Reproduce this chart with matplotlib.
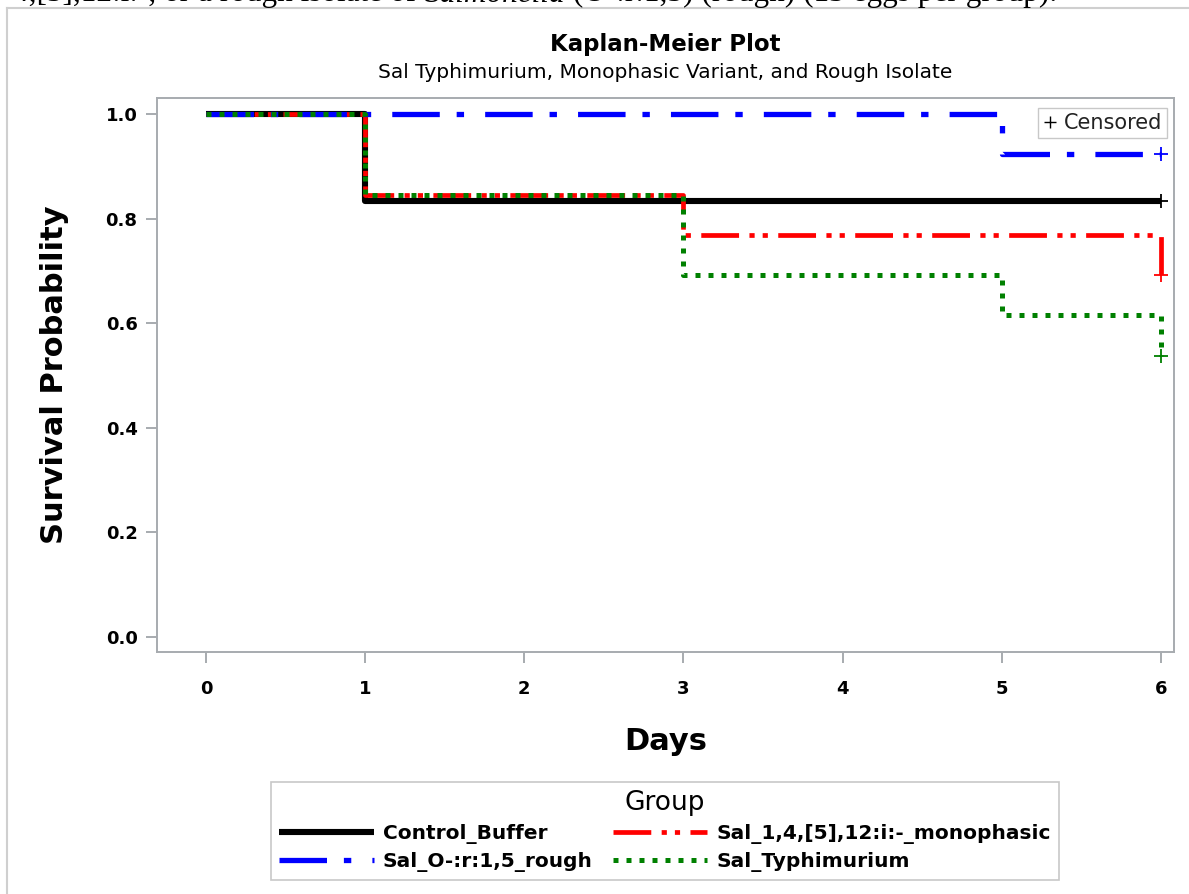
import matplotlib
matplotlib.use("Agg")
import matplotlib.pyplot as plt
from matplotlib.lines import Line2D

# Kaplan-Meier survival estimates (step changes at these days)
days = [0, 1, 3, 5, 6]
control_buffer = [1.0, 0.833, 0.833, 0.833, 0.833]
monophasic = [1.0, 0.846, 0.769, 0.769, 0.692]
rough = [1.0, 1.0, 1.0, 0.923, 0.923]
typhimurium = [1.0, 0.846, 0.692, 0.615, 0.538]

group_names = ["Control_Buffer", "Sal_1,4,[5],12:i:-_monophasic",
               "Sal_O-:r:1,5_rough", "Sal_Typhimurium"]
x_ticks = [0, 1, 2, 3, 4, 5, 6]
y_ticks = [0.0, 0.2, 0.4, 0.6, 0.8, 1.0]

plt.rcParams["font.family"] = ["DejaVu Sans"]

W, H = 1189, 894
fig = plt.figure(figsize=(W / 100, H / 100), dpi=100)
fig.patch.set_facecolor("white")

ax = fig.add_axes([157 / W, 1 - 652 / H, (1174 - 157) / W, (652 - 98) / H])

styles = {
    "Control_Buffer": dict(color="black", lw=4.4, ls="-", zorder=3),
    "Sal_1,4,[5],12:i:-_monophasic": dict(color="#FF0000", lw=3.4,
        ls=(0, (8.0, 2.2, 1.1, 1.7, 1.1, 2.2)), zorder=4),
    "Sal_O-:r:1,5_rough": dict(color="#0000FF", lw=3.8,
        ls=(0, (9.0, 3.2, 1.4, 4.0)), zorder=5),
    "Sal_Typhimurium": dict(color="#008000", lw=3.6, ls=(0, (1.0, 1.6)), zorder=6),
}
series = {
    "Control_Buffer": control_buffer,
    "Sal_1,4,[5],12:i:-_monophasic": monophasic,
    "Sal_O-:r:1,5_rough": rough,
    "Sal_Typhimurium": typhimurium,
}

handles = {}
for name in group_names:
    st = styles[name]
    vals = series[name]
    (ln,) = ax.plot(days, vals, drawstyle="steps-post", color=st["color"],
                    lw=st["lw"], ls=st["ls"], zorder=st["zorder"],
                    solid_capstyle="butt", dash_capstyle="butt")
    handles[name] = ln
    # censored observation at end of follow-up
    ax.plot([days[-1]], [vals[-1]], marker="+", ms=10, mew=1.3,
            color=st["color"], ls="none", zorder=8)

ax.set_xlim(-0.308, 6.082)
ax.set_ylim(-0.029, 1.031)
ax.set_xticks(x_ticks)
ax.set_yticks(y_ticks)
ax.set_xticklabels([str(t) for t in x_ticks], fontsize=13, fontweight="bold")
ax.set_yticklabels([f"{t:.1f}" for t in y_ticks], fontsize=13, fontweight="bold")

gray = "#A7ABAF"
for sp in ax.spines.values():
    sp.set_color(gray)
    sp.set_linewidth(1.4)
ax.tick_params(axis="both", direction="out", color=gray, width=1.4, length=8)
ax.tick_params(axis="x", pad=12)
ax.tick_params(axis="y", pad=6)

ax.set_xlabel("Days", fontsize=22, fontweight="bold", labelpad=21)
ax.set_ylabel("Survival Probability", fontsize=22, fontweight="bold", labelpad=26)

fig.text(665 / W, 1 - 45 / H, "Kaplan-Meier Plot", ha="center", va="center",
         fontsize=16.5, fontweight="bold")
fig.text(665 / W, 1 - 73 / H,
         "Sal Typhimurium, Monophasic Variant, and Rough Isolate",
         ha="center", va="center", fontsize=14.5)

# censored marker key inside the plot area
cens = Line2D([], [], marker="+", color="black", ls="none", ms=9, mew=1.0)
ax.legend([cens], ["Censored"], loc="upper right",
          bbox_to_anchor=((1167 - 157) / 1017, 1 - 10 / 554), borderaxespad=0,
          fontsize=15, handlelength=0.6, handletextpad=0.35, borderpad=0.25,
          fancybox=False, edgecolor="#C8C8C8", framealpha=1, labelcolor="#222222")

# group legend below the plot (column-major order)
order = ["Control_Buffer", "Sal_O-:r:1,5_rough",
         "Sal_1,4,[5],12:i:-_monophasic", "Sal_Typhimurium"]
leg = fig.legend([handles[n] for n in order], order, ncol=2,
                 loc="upper center", bbox_to_anchor=(665 / W, 1 - 782 / H),
                 borderaxespad=0,
                 title="Group", title_fontsize=19,
                 prop=dict(size=14.5, weight="bold"),
                 handlelength=4.7, handletextpad=0.45, columnspacing=1.0,
                 labelspacing=0.4, borderpad=0.4, fancybox=False,
                 edgecolor="#C8C8C8", framealpha=1)
leg.get_frame().set_linewidth(1.2)

# page frame
fig.add_artist(Line2D([7 / W, 7 / W], [0, 1 - 8 / H], transform=fig.transFigure,
                      color="#CFCFCF", lw=1.5))
fig.add_artist(Line2D([7 / W, 1], [1 - 8 / H, 1 - 8 / H], transform=fig.transFigure,
                      color="#CFCFCF", lw=1.5))

# running document text cut at the top edge
fig.canvas.draw()
r = fig.canvas.get_renderer()
y0 = 1 - 1.5 / H
pieces = [("4,[5],12:i:-, or a rough isolate of ", "normal"),
          ("Salmonella", "italic"),
          (" (O-:r:1,5) (rough) (13 eggs per group).", "normal")]
x_right = 1057
for txt, style in reversed(pieces):
    t = fig.text(x_right / W, y0, txt, ha="right", va="baseline",
                 fontsize=22.5, family="Liberation Serif", style=style)
    bb = t.get_window_extent(r)
    x_right = bb.x0

fig.savefig("out.png", dpi=100, facecolor="white")
